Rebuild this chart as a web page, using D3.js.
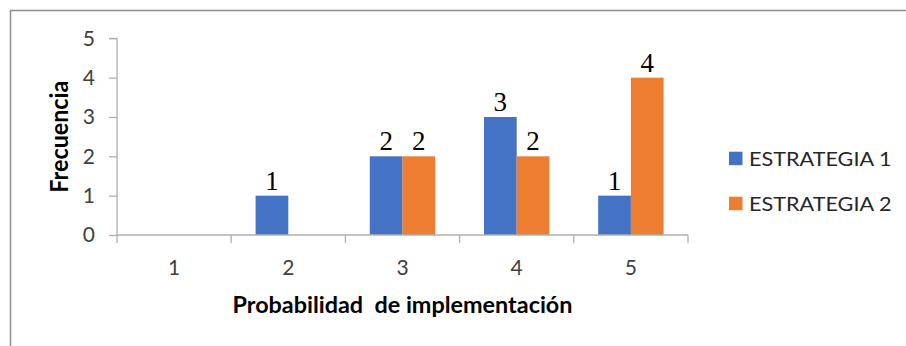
<!DOCTYPE html>
<html>
<head>
<meta charset="utf-8">
<script src="https://cdn.jsdelivr.net/npm/d3@7"></script>
<style>
  html, body { margin: 0; padding: 0; background: #fff; }
  svg { display: block; }
</style>
</head>
<body>
<svg id="chart" width="906" height="346"></svg>
<script>
const categories = ["1", "2", "3", "4", "5"];
const seriesNames = ["ESTRATEGIA 1", "ESTRATEGIA 2"];
const estrategia1 = [0, 1, 2, 3, 1];
const estrategia2 = [0, 0, 2, 2, 4];
const yTicks = [0, 1, 2, 3, 4, 5];
const xTitle = "Probabilidad\u00a0 de implementación";
const yTitle = "Frecuencia";

const colors = ["#4472C4", "#ED7D31"];
const seriesValues = [estrategia1, estrategia2];
const rows = categories.map((c, i) => ({
  cat: c,
  vals: seriesNames.map((s, j) => ({ key: s, value: seriesValues[j][i], idx: j }))
}));

const svg = d3.select("#chart");

// outer border (only top and left visible)
svg.append("rect")
  .attr("x", 10.5).attr("y", 10.5)
  .attr("width", 1000).attr("height", 1000)
  .attr("fill", "none").attr("stroke", "#8e8e8e").attr("stroke-width", 1.5);

const plot = { left: 117, right: 688, top: 38.3, bottom: 235 };

const x = d3.scaleBand().domain(categories).range([plot.left, plot.right]).padding(0);
const xInner = d3.scaleBand().domain(seriesNames).range([0, x.bandwidth()])
  .paddingInner(0).paddingOuter(0.746);
const y = d3.scaleLinear().domain([0, 5]).range([plot.bottom, plot.top]);

// bars
const g = svg.append("g");
const groups = g.selectAll("g.cat").data(rows).join("g")
  .attr("transform", d => `translate(${x(d.cat)},0)`);
groups.selectAll("rect").data(d => d.vals.filter(v => v.value > 0)).join("rect")
  .attr("x", d => xInner(d.key))
  .attr("y", d => y(d.value))
  .attr("width", xInner.bandwidth())
  .attr("height", d => y(0) - y(d.value))
  .attr("fill", d => colors[d.idx]);

groups.selectAll("text").data(d => d.vals.filter(v => v.value > 0)).join("text")
  .attr("x", d => xInner(d.key) + xInner.bandwidth() / 2)
  .attr("y", d => y(d.value) - 6)
  .attr("text-anchor", "middle")
  .attr("font-family", "'Liberation Serif', 'Times New Roman', serif")
  .attr("font-size", 27)
  .attr("fill", "#000")
  .text(d => d.value);

// y axis
const yAxis = d3.axisLeft(y).tickValues(yTicks).tickSize(8).tickPadding(14).tickFormat(d3.format("d"));
const yg = svg.append("g").attr("transform", `translate(${plot.left},0)`).call(yAxis);
yg.select(".domain").attr("stroke", "#b0b0b0").attr("stroke-width", 1.3)
  .attr("d", `M-8,${y(5)}H0V${y(0)}`);
yg.selectAll(".tick line").attr("stroke", "#b0b0b0").attr("stroke-width", 1.3);
yg.selectAll(".tick text")
  .attr("font-family", "Lato, 'Open Sans', sans-serif")
  .attr("font-size", 21).attr("fill", "#404040");

// x axis
const xBoundary = d3.scaleLinear().domain([0, categories.length]).range([plot.left, plot.right]);
const xg = svg.append("g").attr("transform", `translate(0,${plot.bottom})`);
xg.append("line").attr("x1", plot.left).attr("x2", plot.right)
  .attr("stroke", "#b0b0b0").attr("stroke-width", 1.3);
xg.selectAll("line.tk").data(d3.range(categories.length + 1)).join("line")
  .attr("class", "tk")
  .attr("x1", d => xBoundary(d)).attr("x2", d => xBoundary(d))
  .attr("y1", 0).attr("y2", 8)
  .attr("stroke", "#b0b0b0").attr("stroke-width", 1.3);
xg.selectAll("text").data(categories).join("text")
  .attr("x", d => x(d) + x.bandwidth() / 2)
  .attr("y", 39.5)
  .attr("text-anchor", "middle")
  .attr("font-family", "Lato, 'Open Sans', sans-serif")
  .attr("font-size", 21).attr("fill", "#404040")
  .text(d => d);

// axis titles
svg.append("text")
  .attr("x", (plot.left + plot.right) / 2).attr("y", 313)
  .attr("text-anchor", "middle")
  .attr("font-family", "Lato, 'Open Sans', sans-serif")
  .attr("font-weight", "bold").attr("font-size", 23).attr("fill", "#000")
  .attr("textLength", 340).attr("lengthAdjust", "spacingAndGlyphs")
  .text(xTitle);

svg.append("text")
  .attr("transform", `translate(68,${(plot.top + plot.bottom) / 2}) rotate(-90)`)
  .attr("text-anchor", "middle")
  .attr("font-family", "Lato, 'Open Sans', sans-serif")
  .attr("font-weight", "bold").attr("font-size", 24).attr("fill", "#000")
  .attr("textLength", 112).attr("lengthAdjust", "spacingAndGlyphs")
  .text(yTitle);

// legend
const legend = svg.append("g").attr("transform", "translate(729,151.7)");
const li = legend.selectAll("g").data(seriesNames).join("g")
  .attr("transform", (d, i) => `translate(0,${i * 45})`);
li.append("rect").attr("width", 13.5).attr("height", 13.5)
  .attr("fill", (d, i) => colors[i]);
li.append("text").attr("x", 20).attr("y", 14.2)
  .attr("font-family", "Lato, 'Open Sans', sans-serif")
  .attr("font-size", 20).attr("fill", "#262626")
  .attr("textLength", 142.5).attr("lengthAdjust", "spacingAndGlyphs")
  .text(d => d);
</script>
</body>
</html>
